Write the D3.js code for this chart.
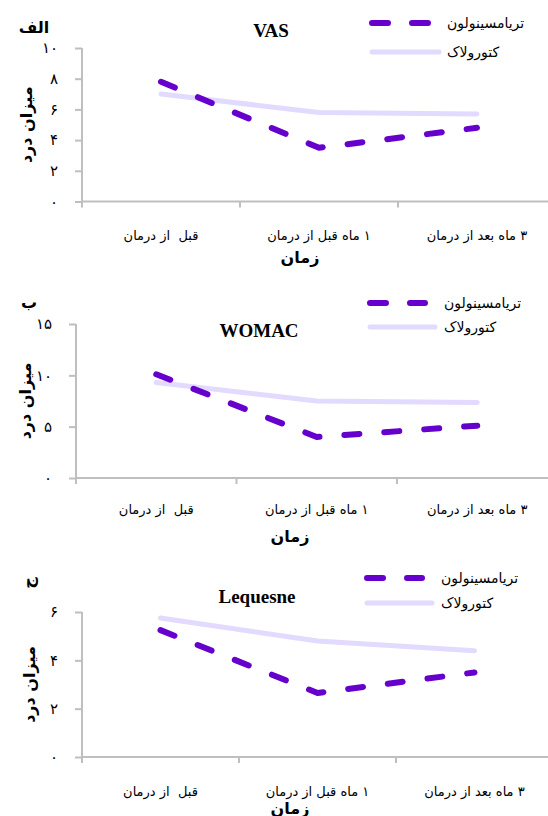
<!DOCTYPE html>
<html>
<head>
<meta charset="utf-8">
<script src="https://cdn.jsdelivr.net/npm/d3@7"></script>
<style>
  body { margin: 0; background: #fff; }
  svg { display: block; }
  .fa { font-family: "DejaVu Sans", sans-serif; }
  .ttl { font-family: "Liberation Serif", "Times New Roman", serif; font-weight: bold; }
</style>
</head>
<body>
<div id="chart"></div>
<script>
// categories and series
const categories = ["قبل  از درمان", "۱ ماه قبل از درمان", "۳ ماه بعد از درمان"];
const seriesNames = ["تریامسینولون", "کتورولاک"];

const vasTriam = [7.8, 3.5, 4.8];
const vasKeto = [7.0, 5.8, 5.7];
const womacTriam = [10.1, 4.0, 5.1];
const womacKeto = [9.3, 7.5, 7.35];
const lequesneTriam = [5.25, 2.65, 3.5];
const lequesneKeto = [5.75, 4.8, 4.4];

const vasTicks = [0, 2, 4, 6, 8, 10];
const womacTicks = [0, 5, 10, 15];
const lequesneTicks = [0, 2, 4, 6];

const titles = ["VAS", "WOMAC", "Lequesne"];
const panelLabels = ["الف", "ب", "ج"];
const yTitle = "میزان درد";
const xTitle = "زمان";

const width = 548, height = 816;
const triamColor = "#6600cc", ketoColor = "#e2daff", axisColor = "#bfbfbf";

// persian digits for tick labels
const faDigits = n => String(n).replace(/\d/g, d => "۰۱۲۳۴۵۶۷۸۹"[d]);

const svg = d3.select("#chart").append("svg")
  .attr("width", width)
  .attr("height", height)
  .attr("viewBox", [0, 0, width, height]);

// layout of each panel
const panels = [
  { triam: vasTriam, keto: vasKeto, ticks: vasTicks, title: titles[0], label: panelLabels[0],
    x0: 82, step: 158, top: 48, bottom: 201.5, titleX: 271, titleY: 37,
    labelX: 34, labelY: 33, rotateLabel: false,
    yTitleX: 26, catY: 240, xTitleX: 300, xTitleY: 263,
    legX: 372, legY1: 23, legY2: 52, legLen1: 57, legLen2: 67, legTextX: 447 },
  { triam: womacTriam, keto: womacKeto, ticks: womacTicks, title: titles[1], label: panelLabels[1],
    x0: 76, step: 160.5, top: 324, bottom: 478, titleX: 259, titleY: 337,
    labelX: 29, labelY: 308, rotateLabel: false,
    yTitleX: 25, catY: 514, xTitleX: 290, xTitleY: 542,
    legX: 370, legY1: 303, legY2: 327, legLen1: 55, legLen2: 65, legTextX: 444 },
  { triam: lequesneTriam, keto: lequesneKeto, ticks: lequesneTicks, title: titles[2], label: panelLabels[2],
    x0: 82, step: 157, top: 612, bottom: 757, titleX: 257, titleY: 603,
    labelX: 28, labelY: 583, rotateLabel: true,
    yTitleX: 29, catY: 796, xTitleX: 290, xTitleY: 814,
    legX: 367, legY1: 578, legY2: 603, legLen1: 55, legLen2: 65, legTextX: 441 }
];

panels.forEach(p => {
  const g = svg.append("g");

  const x = d3.scaleBand()
    .domain(categories)
    .range([p.x0, p.x0 + categories.length * p.step]);

  const y = d3.scaleLinear()
    .domain(d3.extent(p.ticks))
    .range([p.bottom, p.top]);

  // y axis
  const yAxis = g.append("g")
    .attr("transform", `translate(${p.x0},0)`)
    .call(d3.axisLeft(y).tickValues(p.ticks).tickSize(7).tickPadding(17).tickFormat(faDigits));
  yAxis.select(".domain").attr("stroke", axisColor).attr("stroke-width", 2)
    .attr("d", `M0,${p.top}V${p.bottom + 6}`);
  yAxis.selectAll(".tick line").attr("stroke", axisColor).attr("stroke-width", 2);
  yAxis.selectAll(".tick text").attr("class", "fa").attr("font-size", 15).attr("fill", "#000");

  // x axis, ticks between categories
  g.append("line")
    .attr("x1", p.x0).attr("x2", x.range()[1])
    .attr("y1", p.bottom).attr("y2", p.bottom)
    .attr("stroke", axisColor).attr("stroke-width", 2);
  g.selectAll(".xtick")
    .data(categories.slice(1).concat([null]))
    .join("line")
    .attr("x1", (d, i) => p.x0 + (i + 1) * x.step())
    .attr("x2", (d, i) => p.x0 + (i + 1) * x.step())
    .attr("y1", p.bottom).attr("y2", p.bottom + 6)
    .attr("stroke", axisColor).attr("stroke-width", 2);

  g.selectAll(".cat")
    .data(categories)
    .join("text")
    .attr("class", "fa")
    .attr("x", d => x(d) + x.bandwidth() / 2)
    .attr("y", p.catY)
    .attr("direction", "rtl")
    .attr("text-anchor", "middle")
    .attr("font-size", 13)
    .style("white-space", "pre")
    .text(d => d);

  // lines
  const line = d3.line()
    .x((d, i) => x(categories[i]) + x.bandwidth() / 2)
    .y(d => y(d));

  g.append("path")
    .datum(p.keto)
    .attr("d", line)
    .attr("fill", "none")
    .attr("stroke", ketoColor)
    .attr("stroke-width", 5)
    .attr("stroke-linecap", "round")
    .attr("stroke-linejoin", "round");

  g.append("path")
    .datum(p.triam)
    .attr("d", line)
    .attr("fill", "none")
    .attr("stroke", triamColor)
    .attr("stroke-width", 6)
    .attr("stroke-dasharray", "15,25")
    .attr("stroke-linecap", "round")
    .attr("stroke-linejoin", "round");

  // legend
  g.append("line")
    .attr("x1", p.legX).attr("x2", p.legX + p.legLen1)
    .attr("y1", p.legY1).attr("y2", p.legY1)
    .attr("stroke", triamColor).attr("stroke-width", 6)
    .attr("stroke-dasharray", "16,24").attr("stroke-linecap", "round");
  g.append("line")
    .attr("x1", p.legX).attr("x2", p.legX + p.legLen2)
    .attr("y1", p.legY2).attr("y2", p.legY2)
    .attr("stroke", ketoColor).attr("stroke-width", 5).attr("stroke-linecap", "round");
  g.selectAll(".leg")
    .data(seriesNames)
    .join("text")
    .attr("class", "fa")
    .attr("x", p.legTextX)
    .attr("y", (d, i) => (i === 0 ? p.legY1 : p.legY2) + 5)
    .attr("font-size", 14)
    .text(d => d);

  // titles
  g.append("text")
    .attr("class", "ttl")
    .attr("x", p.titleX).attr("y", p.titleY)
    .attr("text-anchor", "middle")
    .attr("font-size", 19)
    .text(p.title);

  g.append("text")
    .attr("class", "fa")
    .attr("font-weight", "bold")
    .attr("font-size", 16)
    .attr("text-anchor", "middle")
    .attr("transform", p.rotateLabel
      ? `translate(${p.labelX},${p.labelY}) rotate(-90)`
      : `translate(${p.labelX},${p.labelY})`)
    .attr("dy", p.rotateLabel ? "0.35em" : 0)
    .text(p.label);

  g.append("text")
    .attr("class", "fa")
    .attr("font-weight", "bold")
    .attr("font-size", 16)
    .attr("text-anchor", "middle")
    .attr("dy", "0.35em")
    .attr("transform", `translate(${p.yTitleX},${(p.top + p.bottom) / 2}) rotate(-90)`)
    .text(yTitle);

  g.append("text")
    .attr("class", "fa")
    .attr("font-weight", "bold")
    .attr("font-size", 16)
    .attr("text-anchor", "middle")
    .attr("x", p.xTitleX).attr("y", p.xTitleY)
    .text(xTitle);
});
</script>
</body>
</html>
